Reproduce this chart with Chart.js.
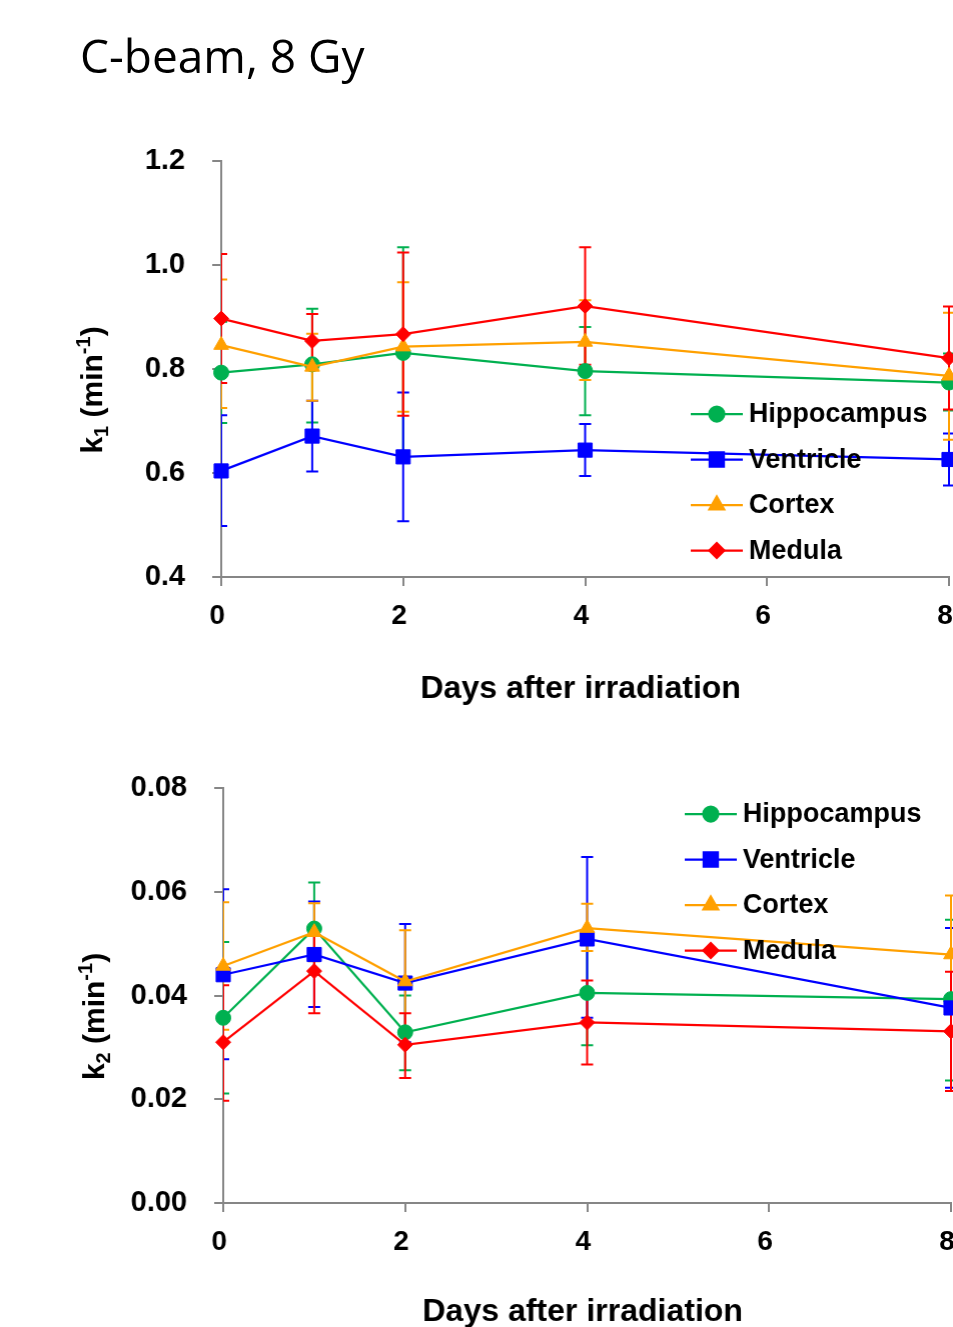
<!DOCTYPE html>
<html>
<head>
<meta charset="utf-8">
<script src="https://cdn.jsdelivr.net/npm/chart.js@4.4.1/dist/chart.umd.min.js"></script>
<style>
  html, body { margin: 0; padding: 0; background: #fff; overflow: hidden; width: 953px; height: 1327px; }
  #title { position: absolute; left: 80px; top: 28px; font-family: "Open Sans"; font-size: 46px; line-height: 1.2; color: #000; z-index: 2; }
  #box1 { position: absolute; left: 0; top: 0; width: 953px; height: 720px; }
  #box2 { position: absolute; left: 0; top: 720px; width: 953px; height: 640px; }
</style>
</head>
<body>
<div id="title">C-beam, 8 Gy</div>
<div id="box1"><canvas id="k1Chart"></canvas></div>
<div id="box2"><canvas id="k2Chart"></canvas></div>
<script>
// days after irradiation
const days = [0, 1, 2, 4, 8];
const xTicks = [0, 2, 4, 6, 8];

// k1 (min-1): mean, upper and lower error bar ends
const hippoK1 = [0.793, 0.809, 0.831, 0.796, 0.774];
const hippoK1Hi = [0.891, 0.916, 1.034, 0.881, 0.830];
const hippoK1Lo = [0.696, 0.697, 0.628, 0.711, 0.720];
const ventK1 = [0.604, 0.671, 0.631, 0.644, 0.626];
const ventK1Hi = [0.711, 0.739, 0.755, 0.694, 0.676];
const ventK1Lo = [0.498, 0.603, 0.507, 0.594, 0.576];
const cortK1 = [0.846, 0.804, 0.843, 0.852, 0.787];
const cortK1Hi = [0.972, 0.868, 0.967, 0.932, 0.908];
const cortK1Lo = [0.725, 0.739, 0.718, 0.779, 0.664];
const medK1 = [0.897, 0.854, 0.867, 0.921, 0.821];
const medK1Hi = [1.021, 0.906, 1.024, 1.034, 0.920];
const medK1Lo = [0.773, 0.802, 0.710, 0.808, 0.722];

// k2 (min-1)
const hippoK2 = [0.0357, 0.0529, 0.0329, 0.0405, 0.0393];
const hippoK2Hi = [0.0503, 0.0618, 0.0400, 0.0506, 0.0546];
const hippoK2Lo = [0.0211, 0.0440, 0.0256, 0.0304, 0.0236];
const ventK2 = [0.0440, 0.0479, 0.0424, 0.0509, 0.0376];
const ventK2Hi = [0.0605, 0.0581, 0.0538, 0.0667, 0.0530];
const ventK2Lo = [0.0277, 0.0378, 0.0310, 0.0357, 0.0222];
const cortK2 = [0.0457, 0.0522, 0.0427, 0.0530, 0.0479];
const cortK2Hi = [0.0580, 0.0578, 0.0526, 0.0577, 0.0593];
const cortK2Lo = [0.0334, 0.0466, 0.0328, 0.0486, 0.0365];
const medK2 = [0.0310, 0.0447, 0.0305, 0.0348, 0.0331];
const medK2Hi = [0.0420, 0.0528, 0.0366, 0.0429, 0.0446];
const medK2Lo = [0.0197, 0.0366, 0.0241, 0.0267, 0.0216];

const GREEN = "#00B050", BLUE = "#0000FF", ORANGE = "#FFA000", RED = "#FF0000";
const AXIS = "#868686";
const FONT = "Liberation Sans";

function series(label, color, style, radius, order, vals, hi, lo) {
  return {
    label: label,
    data: days.map((d, i) => ({ x: d, y: vals[i] })),
    hi: hi,
    lo: lo,
    borderColor: color,
    backgroundColor: color,
    borderWidth: 2.25,
    pointStyle: style,
    pointRadius: radius,
    pointBorderWidth: 1,
    order: order,
    clip: false,
  };
}

// error bars, clipped on the left at the plot area like the original
const errorBars = {
  id: "errorBars",
  beforeDatasetsDraw(chart) {
    const { ctx, chartArea, scales } = chart;
    ctx.save();
    ctx.beginPath();
    ctx.rect(chartArea.left, 0, chart.width - chartArea.left, chart.height);
    ctx.clip();
    chart.data.datasets.forEach((ds) => {
      ctx.strokeStyle = ds.borderColor;
      ctx.lineWidth = 2;
      ds.data.forEach((p, i) => {
        const px = scales.x.getPixelForValue(p.x);
        const top = scales.y.getPixelForValue(ds.hi[i]);
        const bot = scales.y.getPixelForValue(ds.lo[i]);
        ctx.beginPath();
        ctx.moveTo(px, top); ctx.lineTo(px, bot);
        ctx.moveTo(px - 6, top); ctx.lineTo(px + 6, top);
        ctx.moveTo(px - 6, bot); ctx.lineTo(px + 6, bot);
        ctx.stroke();
      });
    });
    ctx.restore();
  },
};

// legend drawn inside the plot, on top of the lines
const boxLegend = {
  id: "boxLegend",
  afterDraw(chart, args, opts) {
    const ctx = chart.ctx;
    const a = chart.chartArea;
    ctx.save();
    chart.data.datasets.forEach((ds, i) => {
      const y = a.top + opts.top + i * opts.gap;
      const x = opts.left;
      ctx.strokeStyle = ds.borderColor;
      ctx.lineWidth = 2.25;
      ctx.beginPath();
      ctx.moveTo(x, y); ctx.lineTo(x + 52, y);
      ctx.stroke();
      ctx.fillStyle = ds.backgroundColor;
      Chart.helpers.drawPoint(ctx, {
        pointStyle: ds.pointStyle, radius: ds.pointRadius, rotation: 0, borderWidth: 1,
      }, x + 26, y);
      ctx.fillStyle = "#000";
      ctx.font = "bold 27px " + FONT;
      ctx.textBaseline = "middle";
      ctx.textAlign = "left";
      ctx.fillText(ds.label, x + 58, y + 1);
    });
    ctx.restore();
  },
};

// rotated y title with subscript and superscript
const yTitle = {
  id: "yTitle",
  afterDraw(chart, args, opts) {
    const ctx = chart.ctx;
    const a = chart.chartArea;
    const parts = [
      { t: "k", size: 30, dy: 0 },
      { t: opts.sub, size: 20, dy: 6 },
      { t: " (min", size: 30, dy: 0 },
      { t: "-1", size: 20, dy: -12 },
      { t: ")", size: 30, dy: 0 },
    ];
    ctx.save();
    let total = 0;
    parts.forEach((p) => {
      ctx.font = "bold " + p.size + "px " + FONT;
      p.w = ctx.measureText(p.t).width;
      total += p.w;
    });
    ctx.translate(a.left - 119, (a.top + a.bottom) / 2 + 21);
    ctx.rotate(-Math.PI / 2);
    ctx.fillStyle = "#000";
    ctx.textBaseline = "alphabetic";
    let cx = -total / 2;
    parts.forEach((p) => {
      ctx.font = "bold " + p.size + "px " + FONT;
      ctx.fillText(p.t, cx, p.dy);
      cx += p.w;
    });
    ctx.restore();
  },
};

function makeChart(id, sets, yMin, yMax, yStep, yDigits, cfg) {
  const chart = new Chart(document.getElementById(id), {
    type: "line",
    data: { datasets: sets },
    plugins: [errorBars, boxLegend, yTitle],
    options: {
      animation: false,
      responsive: true,
      maintainAspectRatio: false,
      layout: { padding: { top: cfg.padTop, right: 0, left: 0, bottom: 0 } },
      plugins: {
        legend: { display: false },
        tooltip: { enabled: false },
        boxLegend: { left: cfg.legLeft, top: cfg.legTop, gap: 45.5 },
        yTitle: { sub: cfg.sub },
      },
      scales: {
        x: {
          type: "linear",
          min: 0,
          max: 8,
          afterBuildTicks: (s) => { s.ticks = xTicks.map((v) => ({ value: v })); },
          afterFit: (s) => { s.height = cfg.xHeight; },
          grid: { drawOnChartArea: false, drawTicks: true, tickLength: 9, color: AXIS, lineWidth: 2 },
          border: { display: true, color: AXIS, width: 2 },
          ticks: {
            color: "#000",
            font: { family: FONT, size: 28, weight: "bold" },
            padding: 13,
            labelOffset: -4,
            maxRotation: 0,
          },
          title: {
            display: true,
            // trailing space nudges the centred title a little to the left
            text: "Days after irradiation ",
            color: "#000",
            font: { family: FONT, size: 32, weight: "bold" },
            padding: { top: 0, bottom: cfg.titlePad },
          },
        },
        y: {
          min: yMin,
          max: yMax,
          afterFit: (s) => { s.width = cfg.yWidth; },
          grid: { drawOnChartArea: false, drawTicks: true, tickLength: 9, color: AXIS, lineWidth: 2 },
          border: { display: true, color: AXIS, width: 2 },
          ticks: {
            stepSize: yStep,
            color: "#000",
            font: { family: FONT, size: 29, weight: "bold" },
            padding: 27,
            callback: (v) => v.toFixed(yDigits),
          },
        },
      },
    },
  });
  // the plot runs off the right edge of the page: widen the canvas
  // until the x axis ends where it should
  const box = chart.canvas.parentNode;
  const extra = cfg.right - chart.chartArea.right;
  box.style.width = (953 + extra) + "px";
  chart.resize();
  return chart;
}

makeChart("k1Chart", [
  series("Hippocampus", GREEN, "circle", 7.5, 3, hippoK1, hippoK1Hi, hippoK1Lo),
  series("Ventricle", BLUE, "rect", 10, 2, ventK1, ventK1Hi, ventK1Lo),
  series("Cortex", ORANGE, "triangle", 8.5, 1, cortK1, cortK1Hi, cortK1Lo),
  series("Medula", RED, "rectRot", 7.5, 0, medK1, medK1Hi, medK1Lo),
], 0.4, 1.2, 0.2, 1, {
  padTop: 161, xHeight: 143, yWidth: 221, titlePad: 12, right: 948,
  legLeft: 690, legTop: 253, sub: "1",
});

makeChart("k2Chart", [
  series("Hippocampus", GREEN, "circle", 7.5, 3, hippoK2, hippoK2Hi, hippoK2Lo),
  series("Ventricle", BLUE, "rect", 10, 2, ventK2, ventK2Hi, ventK2Lo),
  series("Cortex", ORANGE, "triangle", 8.5, 1, cortK2, cortK2Hi, cortK2Lo),
  series("Medula", RED, "rectRot", 7.5, 0, medK2, medK2Hi, medK2Lo),
], 0, 0.08, 0.02, 2, {
  padTop: 68, xHeight: 157, yWidth: 223, titlePad: 29, right: 950,
  legLeft: 684, legTop: 26, sub: "2",
});
</script>
</body>
</html>
